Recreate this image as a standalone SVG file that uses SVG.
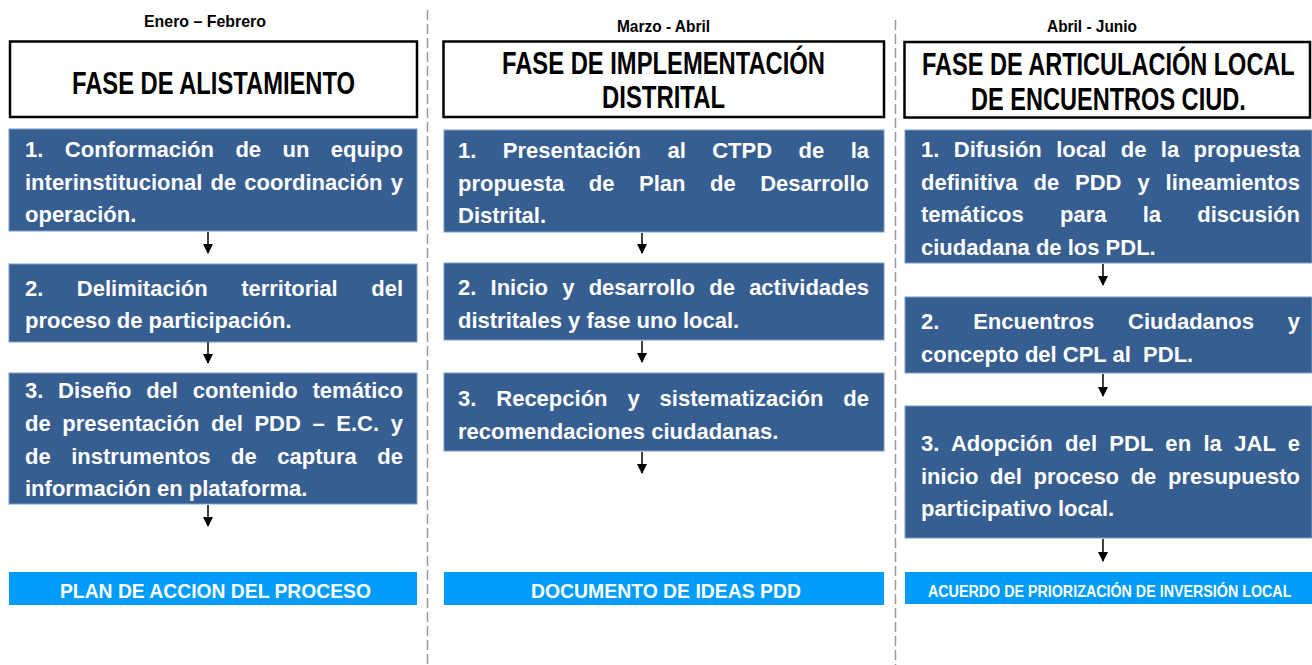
<svg xmlns="http://www.w3.org/2000/svg" width="1312" height="665" viewBox="0 0 1312 665">
<style>
.bg{fill:#ffffff}
.sep{stroke:#9a9a9a;stroke-width:1.5;stroke-dasharray:10 4;fill:none}
.hdr{fill:#ffffff;stroke:#000000;stroke-width:2.5}
.step{fill:#375E91;stroke:#7D9CC8;stroke-width:1}
.out{fill:#009CFA}
.mon{font-family:"Liberation Sans",Arial,sans-serif;font-weight:bold;font-size:16.5px;fill:#000000}
.ttl{font-family:"Liberation Sans",Arial,sans-serif;font-weight:bold;font-size:31px;fill:#000000}
.b{font-family:"Liberation Sans",Arial,sans-serif;font-weight:bold;font-size:22px;fill:#ffffff}
.o{font-family:"Liberation Sans",Arial,sans-serif;font-weight:bold;font-size:21px;fill:#ffffff}
.o2{font-family:"Liberation Sans",Arial,sans-serif;font-weight:bold;font-size:17px;fill:#ffffff}
.arr{stroke:#000000;stroke-width:1.5;fill:none;marker-end:url(#ah)}
</style>
<defs>
<marker id="ah" viewBox="0 0 10 10" refX="9" refY="5" markerWidth="10" markerHeight="10" markerUnits="userSpaceOnUse" orient="auto">
<path d="M0,0 L10,5 L0,10 Z" fill="#000000"/>
</marker>
</defs>
<rect class="bg" x="0" y="0" width="1312" height="665"/>
<g id="separators">
<line class="sep" x1="427.5" y1="10" x2="427.5" y2="665"/>
<line class="sep" x1="895.5" y1="20" x2="895.5" y2="665"/>
</g>

<g id="col1-month"><text class="mon" x="144" y="27" textLength="122" lengthAdjust="spacingAndGlyphs">Enero – Febrero</text></g>
<g id="col1-header">
<rect class="hdr" x="10" y="41.5" width="407" height="75.5"/>
<text class="ttl" x="72" y="94" textLength="283" lengthAdjust="spacingAndGlyphs">FASE DE ALISTAMIENTO</text>
</g>
<g id="col1-step1">
<rect class="step" x="9" y="129" width="408" height="102"/>
<text class="b" x="25" y="157" word-spacing="15.35" textLength="378" lengthAdjust="spacing">1. Conformación de un equipo</text>
<text class="b" x="25" y="190" word-spacing="2.1" textLength="378" lengthAdjust="spacing">interinstitucional de coordinación y</text>
<text class="b" x="25" y="222">operación.</text>
</g>
<g id="col1-step2">
<rect class="step" x="9" y="264" width="408" height="78"/>
<text class="b" x="25" y="296" word-spacing="27.4" textLength="378" lengthAdjust="spacing">2. Delimitación territorial del</text>
<text class="b" x="25" y="328">proceso de participación.</text>
</g>
<g id="col1-step3">
<rect class="step" x="9" y="373" width="408" height="131"/>
<text class="b" x="25" y="398" word-spacing="8.6" textLength="378" lengthAdjust="spacing">3. Diseño del contenido temático</text>
<text class="b" x="25" y="431" word-spacing="5.5" textLength="378" lengthAdjust="spacing">de presentación del PDD – E.C. y</text>
<text class="b" x="25" y="464" word-spacing="14.4" textLength="378" lengthAdjust="spacing">de instrumentos de captura de</text>
<text class="b" x="25" y="496">información en plataforma.</text>
</g>
<g id="col1-output">
<rect class="out" x="9" y="572" width="408" height="33"/>
<text class="o" x="60" y="598" textLength="311" lengthAdjust="spacingAndGlyphs">PLAN DE ACCION DEL PROCESO</text>
</g>

<g id="col2-month"><text class="mon" x="617" y="32" textLength="93" lengthAdjust="spacingAndGlyphs">Marzo - Abril</text></g>
<g id="col2-header">
<rect class="hdr" x="443.5" y="41.5" width="440.5" height="75.5"/>
<text class="ttl" x="502" y="74" textLength="323" lengthAdjust="spacingAndGlyphs">FASE DE IMPLEMENTACIÓN</text>
<text class="ttl" x="602" y="108" textLength="123" lengthAdjust="spacingAndGlyphs">DISTRITAL</text>
</g>
<g id="col2-step1">
<rect class="step" x="444" y="130" width="440" height="102"/>
<text class="b" x="458" y="158" word-spacing="20.3" textLength="411" lengthAdjust="spacing">1. Presentación al CTPD de la</text>
<text class="b" x="458" y="191" word-spacing="18.4" textLength="411" lengthAdjust="spacing">propuesta de Plan de Desarrollo</text>
<text class="b" x="458" y="223">Distrital.</text>
</g>
<g id="col2-step2">
<rect class="step" x="444" y="263" width="440" height="77"/>
<text class="b" x="458" y="295" word-spacing="8.1" textLength="411" lengthAdjust="spacing">2. Inicio y desarrollo de actividades</text>
<text class="b" x="458" y="328">distritales y fase uno local.</text>
</g>
<g id="col2-step3">
<rect class="step" x="444" y="373" width="440" height="78"/>
<text class="b" x="458" y="406" word-spacing="13.8" textLength="411" lengthAdjust="spacing">3. Recepción y sistematización de</text>
<text class="b" x="458" y="439">recomendaciones ciudadanas.</text>
</g>
<g id="col2-output">
<rect class="out" x="444" y="572" width="440" height="33"/>
<text class="o" x="531" y="598" textLength="270" lengthAdjust="spacingAndGlyphs">DOCUMENTO DE IDEAS PDD</text>
</g>

<g id="col3-month"><text class="mon" x="1047" y="32" textLength="90" lengthAdjust="spacingAndGlyphs">Abril - Junio</text></g>
<g id="col3-header">
<rect class="hdr" x="904.5" y="42" width="405.5" height="75.5"/>
<text class="ttl" transform="translate(922,75) scale(0.759,1)" x="0" y="0">FASE DE ARTICULACIÓN LOCAL</text>
<text class="ttl" transform="translate(971,110) scale(0.76,1)" x="0" y="0">DE ENCUENTROS CIUD.</text>
</g>
<g id="col3-step1">
<rect class="step" x="905" y="130" width="407" height="133"/>
<text class="b" x="921" y="157" word-spacing="8.3" textLength="379" lengthAdjust="spacing">1. Difusión local de la propuesta</text>
<text class="b" x="921" y="190" word-spacing="9.8" textLength="379" lengthAdjust="spacing">definitiva de PDD y lineamientos</text>
<text class="b" x="921" y="222" word-spacing="30.1" textLength="379" lengthAdjust="spacing">temáticos para la discusión</text>
<text class="b" x="921" y="255">ciudadana de los PDL.</text>
</g>
<g id="col3-step2">
<rect class="step" x="905" y="297" width="407" height="76"/>
<text class="b" x="921" y="329" word-spacing="27.7" textLength="379" lengthAdjust="spacing">2. Encuentros Ciudadanos y</text>
<text class="b" x="921" y="362" xml:space="preserve">concepto del CPL al  PDL.</text>
</g>
<g id="col3-step3">
<rect class="step" x="905" y="406" width="407" height="132"/>
<text class="b" x="921" y="451" word-spacing="6.1" textLength="379" lengthAdjust="spacing">3. Adopción del PDL en la JAL e</text>
<text class="b" x="921" y="484" word-spacing="5.5" textLength="379" lengthAdjust="spacing">inicio del proceso de presupuesto</text>
<text class="b" x="921" y="516">participativo local.</text>
</g>
<g id="col3-output">
<rect class="out" x="905" y="572" width="407" height="32"/>
<text class="o2" transform="translate(928,597) scale(0.841,1)" x="0" y="0">ACUERDO DE PRIORIZACIÓN DE INVERSIÓN LOCAL</text>
</g>

<g id="connectors">
<line class="arr" x1="208" y1="232" x2="208" y2="253"/>
<line class="arr" x1="208" y1="342" x2="208" y2="363"/>
<line class="arr" x1="208" y1="505" x2="208" y2="526"/>
<line class="arr" x1="642" y1="233" x2="642" y2="253"/>
<line class="arr" x1="642" y1="341" x2="642" y2="362"/>
<line class="arr" x1="642" y1="452" x2="642" y2="473"/>
<line class="arr" x1="1103" y1="264" x2="1103" y2="285"/>
<line class="arr" x1="1103" y1="374" x2="1103" y2="396"/>
<line class="arr" x1="1103" y1="539" x2="1103" y2="561"/>
</g>
</svg>
